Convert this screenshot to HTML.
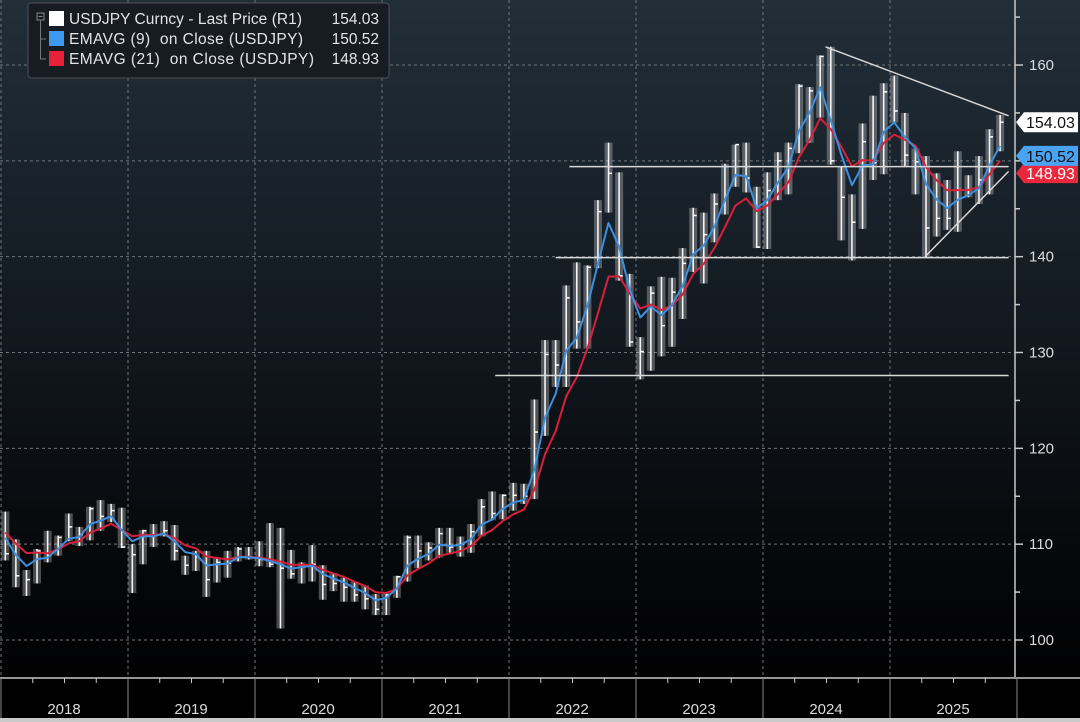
<!DOCTYPE html>
<html><head><meta charset="utf-8"><style>
html,body{margin:0;padding:0;background:#000;}
svg{display:block;font-family:"Liberation Sans",sans-serif;}
</style></head><body>
<svg id="chart" width="1080" height="722" viewBox="0 0 1080 722">
<defs>
<linearGradient id="bg" x1="0" y1="0" x2="0" y2="1">
<stop offset="0" stop-color="#222e38"/>
<stop offset="0.45" stop-color="#121920"/>
<stop offset="0.8" stop-color="#050608"/>
<stop offset="1" stop-color="#000"/>
</linearGradient>
</defs>
<rect x="0" y="0" width="1080" height="722" fill="url(#bg)"/>
<g id="grid"></g>
<g id="bars"></g>
<g id="lines"></g>
<g id="trend"></g>
<g id="yaxis"></g>
<g id="xaxis"></g>
<g>
<rect x="28" y="3" width="361" height="75" rx="3" fill="#161c22" stroke="#4a4f55"/>
<rect x="37" y="13" width="7" height="7" fill="none" stroke="#888"/>
<line x1="38.5" y1="16.5" x2="42.5" y2="16.5" stroke="#888"/>
<path d="M40.5 20 V59 H46 M40.5 39 H46" stroke="#777" fill="none"/>
<rect x="49" y="11" width="15" height="15" fill="#fff"/>
<rect x="49" y="31" width="15" height="15" fill="#3d9af0"/>
<rect x="49" y="51" width="15" height="15" fill="#e8203a"/>
<g font-size="15.5" fill="#e4e4e4">
<text x="69" y="24" textLength="233">USDJPY Curncy - Last Price (R1)</text>
<text x="379" y="24" text-anchor="end">154.03</text>
<text x="69" y="44" textLength="234" xml:space="preserve">EMAVG (9)  on Close (USDJPY)</text>
<text x="379" y="44" text-anchor="end">150.52</text>
<text x="69" y="64" textLength="245" xml:space="preserve">EMAVG (21)  on Close (USDJPY)</text>
<text x="379" y="64" text-anchor="end">148.93</text>
</g>
</g>
<g id="labels"></g>
</svg>
<script>
const years = ["2018","2019","2020","2021","2022","2023","2024","2025"];
const yTicks = [100,110,120,130,140,150,160];
const yTickLabels = ["100","110","120","130","140","","160"];
const closes = [
109.0,106.7,106.3,109.3,108.8,110.7,111.8,111.0,113.7,112.9,113.5,109.7,
108.9,111.4,110.9,111.4,109.3,107.8,108.7,106.3,108.1,108.0,109.5,108.6,
108.4,107.9,107.5,106.9,107.8,107.9,105.8,105.9,105.5,104.7,104.3,103.2,
104.7,106.6,110.7,109.3,109.6,111.1,109.7,110.0,111.3,113.9,113.2,115.1,
115.1,115.0,121.7,129.8,128.7,135.7,133.2,138.9,144.7,148.7,138.0,131.1,
130.1,136.2,132.8,136.3,139.3,144.3,142.3,145.5,149.4,151.7,148.2,141.0,
146.9,150.0,151.3,157.8,157.3,160.9,150.0,146.2,143.6,152.0,149.8,157.2,
155.2,150.6,149.9,143.0,144.0,144.0,147.0,147.0,148.0,152.5,154.03];
const highs = [
113.4,110.5,107.3,109.5,111.4,110.9,113.2,111.8,113.9,114.6,114.2,113.8,
110.0,111.5,112.1,112.4,112.0,108.8,109.3,109.3,108.5,109.3,109.7,109.7,
110.3,112.2,111.7,109.4,108.1,109.9,107.8,107.0,106.5,106.1,105.7,104.8,
104.9,106.7,110.9,110.9,110.2,111.7,111.7,110.8,112.1,114.7,115.5,115.2,
116.4,116.3,125.1,131.3,131.3,137.0,139.4,139.1,145.9,151.9,148.8,138.2,
131.6,136.9,137.9,137.8,140.9,145.1,144.6,146.6,149.7,151.7,151.9,147.3,
148.8,150.9,151.9,158.0,157.7,161.0,161.9,149.4,146.5,153.9,156.8,158.1,
158.9,155.0,151.3,150.5,148.7,148.0,151.0,148.5,150.5,153.3,154.8];
const lows = [
108.3,105.5,104.6,105.9,108.1,108.8,110.3,109.8,110.4,111.4,112.3,109.6,
104.9,107.9,109.7,110.8,108.3,106.8,107.2,104.5,106.0,106.5,108.2,108.4,
107.7,107.6,101.2,106.4,105.9,106.1,104.2,105.1,104.0,104.0,103.2,102.6,
102.6,104.4,106.1,107.5,108.3,108.6,109.1,108.7,109.1,110.8,112.5,112.6,
113.5,114.2,114.7,121.3,126.4,126.4,130.4,130.4,138.8,144.6,137.5,130.6,
127.2,128.1,129.6,130.6,133.5,138.4,137.2,141.5,144.4,147.3,146.7,140.9,
140.8,145.9,146.5,150.8,151.9,154.5,149.6,141.7,139.6,142.9,148.0,148.6,
154.0,149.4,146.5,139.9,142.1,142.8,142.6,146.2,145.5,146.5,151.0];
const lastValues = [154.03,150.52,148.93];
const lastLabels = ["154.03","150.52","148.93"];
// trend lines: [startMonthIndex, startPrice, endMonthIndex, endPrice]
const trendLines = [[78.0,161.9,95.3,154.7],[53.8,149.4,95.3,149.4],[52.5,139.9,95.3,139.9],[46.8,127.6,95.3,127.6],[87.5,140.1,95.3,148.9]];

const NS="http://www.w3.org/2000/svg";
const X0=0, MW=127/12, PR=1015;
const xm=i=>X0+(i+0.5)*MW;
const xEdge=i=>X0+i*MW;
const yv=p=>640-(p-100)*9.583;
function mk(tag,attrs,parent){const e=document.createElementNS(NS,tag);for(const k in attrs)e.setAttribute(k,attrs[k]);parent.appendChild(e);return e;}

const grid=document.getElementById('grid');
yTicks.forEach(v=>{const l=mk('line',{x1:0,x2:PR,y1:yv(v),y2:yv(v),stroke:'#70757b','stroke-dasharray':'3,3','stroke-width':1},grid);

});
years.forEach((y,k)=>{const x=k*127+1;const l=mk('line',{x1:x,x2:x,y1:0,y2:677,stroke:'#70757b','stroke-dasharray':'3,3','stroke-width':1},grid);

});

const bars=document.getElementById('bars');
closes.forEach((c,i)=>{const x=xm(i);
const r=mk('rect',{x:x-4,y:yv(highs[i]),width:8,height:yv(lows[i])-yv(highs[i]),fill:'#fff','fill-opacity':0.28},bars);


const l=mk('line',{x1:x,x2:x,y1:yv(highs[i]),y2:yv(lows[i]),stroke:'#f4f4f4','stroke-width':1.6},bars);


const t=mk('line',{x1:x,x2:x+3.5,y1:yv(c),y2:yv(c),stroke:'#fff','stroke-width':1.5},bars);

});

function ema(arr,a){const out=[];let e=arr[0]+3;arr.forEach(v=>{e=a*v+(1-a)*e;out.push(e);});return out;}
const ema9=ema(closes,0.45), ema21=ema(closes,0.26);
const lines=document.getElementById('lines');
function poly(vals,col,name){const p=mk('polyline',{points:vals.map((v,i)=>xm(i).toFixed(1)+','+yv(v).toFixed(1)).join(' '),fill:'none',stroke:col,'stroke-width':2,'stroke-linejoin':'round'},lines);

}
poly(ema21,'#d8203a','ema21-line');
poly(ema9,'#3d8fe0','ema9-line');

const trend=document.getElementById('trend');
trendLines.forEach(t=>{const l=mk('line',{x1:xEdge(t[0]),y1:yv(t[1]),x2:Math.min(xEdge(t[2]),1013),y2:yv(t[3]),stroke:'#d8d8d8','stroke-width':1.5},trend);

});

const ya=document.getElementById('yaxis');
mk('line',{x1:PR,x2:PR,y1:0,y2:677,stroke:'#c8c8c8','stroke-width':1.5},ya);
for(let v=100;v<=165;v+=5){mk('line',{x1:PR,x2:PR+(v%10===0?8:5),y1:yv(v),y2:yv(v),stroke:'#c8c8c8','stroke-width':1.5},ya);}
yTicks.forEach((v,k)=>{if(!yTickLabels[k])return;const t=mk('text',{x:1029,y:yv(v)+5,'font-size':15,fill:'#dcdcdc'},ya);t.textContent=yTickLabels[k];

});

const xa=document.getElementById('xaxis');
mk('rect',{x:0,y:677,width:1080,height:45,fill:'#000'},xa);
mk('line',{x1:0,x2:1080,y1:678,y2:678,stroke:'#c8c8c8','stroke-width':1.5},xa);
mk('rect',{x:0,y:718,width:1080,height:4,fill:'#c9c9c9'},xa);
years.forEach((y,k)=>{const x=k*127+1;mk('line',{x1:x,x2:x,y1:678,y2:718,stroke:'#8a8a8a','stroke-width':1},xa);
for(let q=1;q<4;q++){const qx=x+q*127/4;mk('line',{x1:qx,x2:qx,y1:678,y2:683,stroke:'#c8c8c8','stroke-width':1},xa);}
const t=mk('text',{x:x+63,y:714,'font-size':15,fill:'#dcdcdc','text-anchor':'middle'},xa);t.textContent=y;

});
mk('line',{x1:1017,x2:1017,y1:678,y2:718,stroke:'#8a8a8a','stroke-width':1},xa);

const lab=document.getElementById('labels');
const labCols=[['#ffffff','#111'],['#4aa3f2','#111'],['#e8283c','#fff']];
const labY=[yv(lastValues[0]),yv(lastValues[1]),yv(lastValues[2])+2];
[2,1,0].forEach(k=>{const y=labY[k];const c=labCols[k];
const p=mk('path',{d:`M1016 ${y} L1024 ${y-10} H1078 V${y+10} H1024 Z`,fill:c[0]},lab);


const t=mk('text',{x:1026,y:y+6,'font-size':16,fill:c[1]},lab);t.textContent=lastLabels[k];

});
</script>
</body></html>
